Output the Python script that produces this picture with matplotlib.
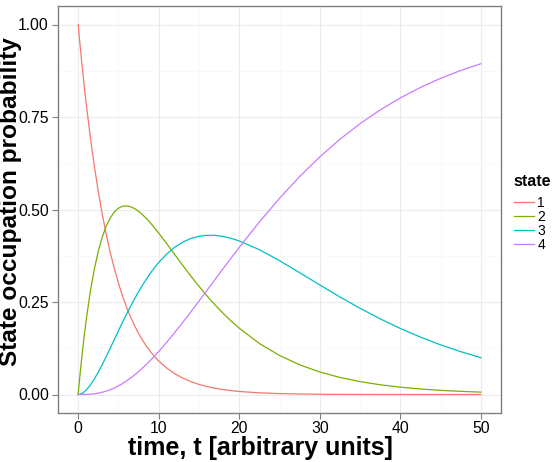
import matplotlib
matplotlib.use("Agg")
import matplotlib.pyplot as plt
from matplotlib.ticker import MultipleLocator

plt.rcParams['font.family'] = ['Liberation Sans', 'DejaVu Sans']

# occupation probability of each state
time = [0, 0.25, 0.5, 0.75, 1, 1.5, 2, 2.5, 3, 3.5, 4, 4.5, 5, 5.5, 6, 6.5, 7, 7.5, 8, 8.5,
        9, 9.5, 10, 11, 12, 13, 14, 15, 16, 17, 18, 19, 20, 22.5, 25, 27.5, 30, 32.5, 35,
        37.5, 40, 42.5, 45, 47.5, 50]
state_1 = [1.0, 0.9418, 0.8869, 0.8353, 0.7866, 0.6977, 0.6188, 0.5488, 0.4868, 0.4317,
           0.3829, 0.3396, 0.3012, 0.2671, 0.2369, 0.2101, 0.1864, 0.1653, 0.1466, 0.1300,
           0.1153, 0.1023, 0.0907, 0.0714, 0.0561, 0.0442, 0.0347, 0.0273, 0.0215, 0.0169,
           0.0133, 0.0105, 0.0082, 0.0045, 0.0025, 0.0014, 0.0007, 0.0004, 0.0002, 0.0001,
           0.0001, 0.0, 0.0, 0.0, 0.0]
state_2 = [0.0, 0.0574, 0.1099, 0.1577, 0.2012, 0.2765, 0.3378, 0.3871, 0.4259, 0.4558,
           0.4779, 0.4935, 0.5035, 0.5087, 0.5098, 0.5076, 0.5026, 0.4952, 0.4859, 0.4751,
           0.4631, 0.4501, 0.4364, 0.4076, 0.3781, 0.3486, 0.3199, 0.2925, 0.2664, 0.2421,
           0.2194, 0.1984, 0.1792, 0.1379, 0.1055, 0.0803, 0.0609, 0.0461, 0.0348, 0.0263,
           0.0198, 0.0149, 0.0112, 0.0085, 0.0064]
state_3 = [0.0, 0.0008, 0.0032, 0.0069, 0.0119, 0.0250, 0.0414, 0.0604, 0.0812, 0.1032,
           0.1260, 0.1490, 0.1720, 0.1946, 0.2167, 0.2380, 0.2583, 0.2777, 0.2959, 0.3129,
           0.3288, 0.3434, 0.3567, 0.3798, 0.3981, 0.4119, 0.4217, 0.4277, 0.4303, 0.4300,
           0.4272, 0.4221, 0.4151, 0.3914, 0.3618, 0.3293, 0.2962, 0.2637, 0.2330, 0.2045,
           0.1785, 0.1551, 0.1342, 0.1158, 0.0996]
state_4 = [0.0, 0.0, 0.0, 0.0001, 0.0003, 0.0009, 0.0020, 0.0037, 0.0061, 0.0093,
           0.0132, 0.0178, 0.0233, 0.0295, 0.0365, 0.0443, 0.0527, 0.0618, 0.0716, 0.0819,
           0.0928, 0.1043, 0.1162, 0.1412, 0.1677, 0.1953, 0.2237, 0.2525, 0.2817, 0.3110,
           0.3402, 0.3690, 0.3975, 0.4662, 0.5303, 0.5890, 0.6422, 0.6898, 0.7320, 0.7691,
           0.8016, 0.8300, 0.8545, 0.8757, 0.8940]

state_labels = ['1', '2', '3', '4']
state_colors = ['#F8766D', '#7CAE00', '#00BFC4', '#C77CFF']

fig = plt.figure(figsize=(5.53, 4.62), dpi=100)
ax = fig.add_axes([58 / 553, 1 - 413 / 462, 443 / 553, 407 / 462])

for serie, lab, col in zip([state_1, state_2, state_3, state_4], state_labels, state_colors):
    ax.plot(time, serie, color=col, lw=0.9, label=lab)

ax.set_xlim(-2.5, 52.5)
ax.set_ylim(-0.05, 1.05)
ax.set_xticks([0, 10, 20, 30, 40, 50])
ax.set_yticks([0, 0.25, 0.5, 0.75, 1.0])
ax.set_yticklabels(['0.00', '0.25', '0.50', '0.75', '1.00'])
ax.xaxis.set_minor_locator(MultipleLocator(5))
ax.yaxis.set_minor_locator(MultipleLocator(0.125))

ax.grid(True, which='major', color='#ebebeb', lw=0.8)
ax.grid(True, which='minor', color='#f9f9f9', lw=0.6)
ax.set_axisbelow(True)
for sp in ax.spines.values():
    sp.set_color('#7f7f7f')
    sp.set_linewidth(1.0)

ax.tick_params(which='major', length=4, width=0.8, color='#7f7f7f',
               labelsize=11.3, labelcolor='black', pad=2.5)
ax.tick_params(axis='x', which='major', pad=1.5)
ax.tick_params(which='minor', length=0)

ax.set_xlabel('time, t [arbitrary units]', fontsize=18, fontweight='bold', va='center')
ax.xaxis.set_label_coords(0.457, -0.087)
ax.set_ylabel('State occupation probability', fontsize=17.6, fontweight='bold', va='center')
ax.yaxis.set_label_coords(-0.1075, 0.52)

# legend: title as its own text so its gap to the keys can be set
fig.text(513 / 553, 1 - 181 / 462, 'state', fontsize=11.5, fontweight='bold',
         ha='left', va='center')
leg = fig.legend(loc='upper left', bbox_to_anchor=(508 / 553, 1 - 190 / 462),
                 frameon=False, fontsize=10, handlelength=1.45,
                 handletextpad=0.25, labelspacing=0.0, borderaxespad=0)

fig.savefig('out.png', dpi=100)
